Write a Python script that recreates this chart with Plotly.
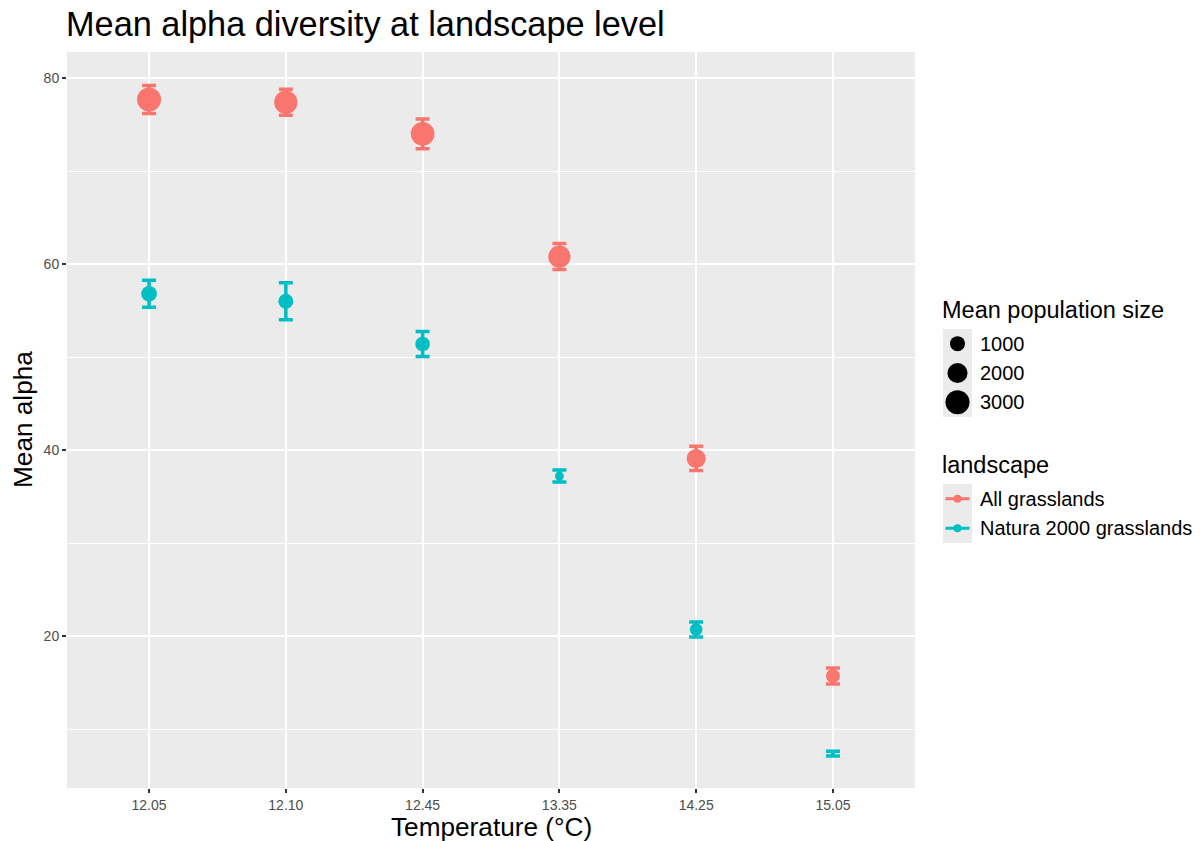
import numpy as np
import plotly.graph_objects as go

# ---------------- data ----------------
temperature = ["12.05", "12.10", "12.45", "13.35", "14.25", "15.05"]

all_mean = [77.7, 77.4, 74.0, 60.8, 39.1, 15.7]
all_se = [1.5, 1.4, 1.6, 1.4, 1.3, 0.85]
all_pop = [3000, 2800, 2915, 2530, 1750, 850]

natura_mean = [56.8, 56.0, 51.4, 37.2, 20.7, 7.35]
natura_se = [1.45, 2.0, 1.35, 0.65, 0.8, 0.25]
natura_pop = [1115, 1000, 955, 310, 675, 135]

size_breaks = [1000, 2000, 3000]
landscapes = ["All grasslands", "Natura 2000 grasslands"]
colors = ["#F8766D", "#00BFC4"]

title_text = "Mean alpha diversity at landscape level"
x_title = "Temperature (°C)"
y_title = "Mean alpha"
size_title = "Mean population size"
colour_title = "landscape"

# ---------------- styling ----------------
FONT = "Liberation Sans, Arial, sans-serif"
PANEL_BG = "#EBEBEB"
W, H = 1203, 841
ML, MR, MT, MB = 67, 0, 52, 53
PAPER_W = W - ML - MR
PAPER_H = H - MT - MB
PANEL_W = 848

all_pops = np.array(all_pop + natura_pop, dtype=float)
vmin, vmax = all_pops.min(), all_pops.max()
D_MIN, D_MAX = 4.0, 24.0


def size_scale(v):
    v = np.asarray(v, dtype=float)
    frac = np.clip((v - vmin) / (vmax - vmin), 0, 1)
    return D_MIN + (D_MAX - D_MIN) * np.sqrt(frac)


def px_x(px):
    return (px - ML) / PAPER_W


def px_y(py):
    return (H - MB - py) / PAPER_H


fig = go.Figure()

series = [
    (landscapes[0], all_mean, all_se, all_pop, colors[0]),
    (landscapes[1], natura_mean, natura_se, natura_pop, colors[1]),
]
for name, mean, se, pop, col in series:
    fig.add_trace(go.Scatter(
        x=temperature, y=mean, mode="markers", name=name, showlegend=False,
        marker=dict(size=size_scale(pop), color=col, line=dict(width=0), opacity=1),
        error_y=dict(type="data", array=se, symmetric=True, color=col,
                     thickness=3.5, width=7),
        xaxis="x", yaxis="y",
    ))

# size legend keys (drawn on a small overlay axis)
size_labels = [str(b) for b in size_breaks]
fig.add_trace(go.Scatter(
    x=[0] * len(size_breaks), y=size_labels, mode="markers",
    marker=dict(size=size_scale(size_breaks), color="#000000",
                line=dict(width=0), opacity=1),
    showlegend=False, hoverinfo="skip", xaxis="x2", yaxis="y2",
))

# colour legend keys
for name, col in zip(landscapes, colors):
    fig.add_trace(go.Scatter(
        x=[0], y=[name], mode="markers",
        marker=dict(size=8, color=col, line=dict(width=0)),
        error_x=dict(type="data", array=[0.83], symmetric=True, color=col,
                     thickness=3, width=0),
        showlegend=False, hoverinfo="skip", xaxis="x3", yaxis="y3",
    ))

key_x0, key_x1 = 943, 972

fig.update_layout(
    width=W, height=H, autosize=False,
    margin=dict(l=ML, r=MR, t=MT, b=MB),
    paper_bgcolor="white", plot_bgcolor=PANEL_BG,
    font=dict(family=FONT, color="black"),
    showlegend=False,
    title=dict(text=title_text, xref="container", yref="container",
               x=66 / W, xanchor="left", y=1 - 24 / H, yanchor="middle",
               font=dict(size=34.3, family=FONT, color="black")),
    xaxis=dict(
        domain=[0, PANEL_W / PAPER_W], type="category",
        categoryorder="array", categoryarray=temperature,
        range=[-0.6, len(temperature) - 0.4],
        showgrid=True, gridcolor="white", gridwidth=2,
        zeroline=False, showline=False,
        ticks="outside", ticklen=4, tickwidth=1.5, tickcolor="#333333",
        tickfont=dict(size=14, color="#4D4D4D", family=FONT),
        anchor="y",
    ),
    yaxis=dict(
        range=[3.66, 82.8], tick0=0, dtick=20,
        showgrid=True, gridcolor="white", gridwidth=2,
        minor=dict(tick0=0, dtick=10, showgrid=True, gridcolor="white",
                   gridwidth=1, ticks=""),
        zeroline=False, showline=False,
        ticks="outside", ticklen=4, tickwidth=1.5, tickcolor="#333333",
        tickfont=dict(size=14, color="#4D4D4D", family=FONT),
        anchor="x",
    ),
    xaxis2=dict(domain=[px_x(key_x0), px_x(key_x1)], range=[-1, 1],
                visible=False, anchor="y2", fixedrange=True),
    yaxis2=dict(domain=[px_y(417), px_y(329)], type="category",
                categoryorder="array", categoryarray=size_labels,
                range=[len(size_labels) - 0.5, -0.5], side="right", anchor="x2",
                showgrid=False, zeroline=False, showline=False, ticks="",
                ticklabelstandoff=7,
                tickfont=dict(size=20, color="black", family=FONT), fixedrange=True),
    xaxis3=dict(domain=[px_x(key_x0), px_x(key_x1)], range=[-1, 1],
                visible=False, anchor="y3", fixedrange=True),
    yaxis3=dict(domain=[px_y(543), px_y(484)], type="category",
                categoryorder="array", categoryarray=landscapes,
                range=[len(landscapes) - 0.5, -0.5], side="right", anchor="x3",
                showgrid=False, zeroline=False, showline=False, ticks="",
                ticklabelstandoff=7,
                tickfont=dict(size=20, color="black", family=FONT), fixedrange=True),
    annotations=[
        dict(text=x_title, xref="paper", yref="paper",
             x=PANEL_W / PAPER_W / 2, y=px_y(827), xanchor="center", yanchor="middle",
             showarrow=False, font=dict(size=26.2, color="black", family=FONT)),
        dict(text=y_title, xref="paper", yref="paper", textangle=-90,
             x=px_x(23), y=px_y(420), xanchor="center", yanchor="middle",
             showarrow=False, font=dict(size=26.2, color="black", family=FONT)),
        dict(text=size_title, xref="paper", yref="paper",
             x=px_x(key_x0 - 3), y=px_y(310), xanchor="left", yanchor="middle",
             showarrow=False, font=dict(size=23.5, color="black", family=FONT)),
        dict(text=colour_title, xref="paper", yref="paper",
             x=px_x(key_x0 - 3), y=px_y(465), xanchor="left", yanchor="middle",
             showarrow=False, font=dict(size=23.5, color="black", family=FONT)),
    ],
)

fig.write_html("out.html")
